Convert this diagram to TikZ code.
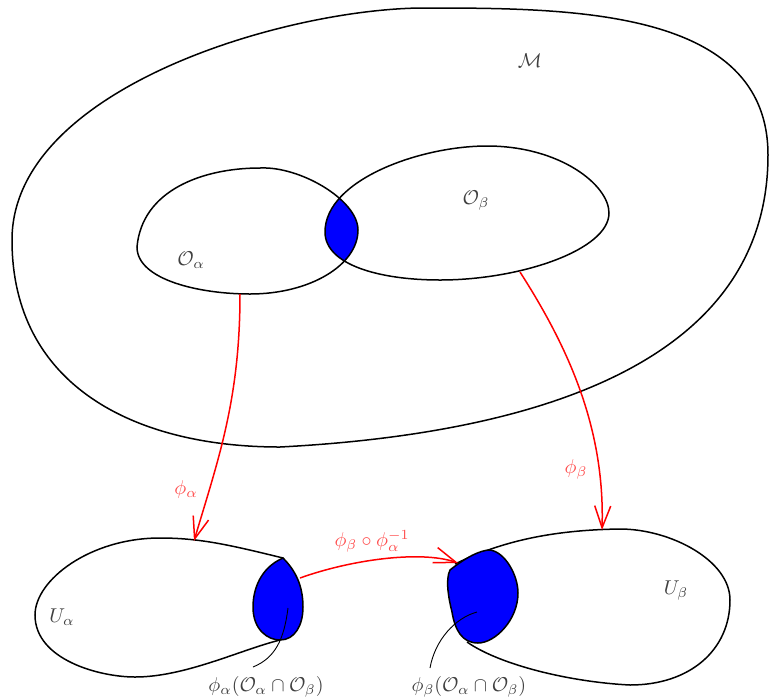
\documentclass[tikz,border=0pt]{standalone}
\usetikzlibrary{arrows.meta}
\begin{document}
\begin{tikzpicture}[x=0.5pt,y=-0.5pt,
  outline/.style={line width=0.75pt,black},
  blobfill/.style={line width=0.75pt,draw=black,fill=blue},
  maparrow/.style={line width=0.75pt,red,-{Straight Barb[length=11pt,width=8pt,line width=0.75pt]}},
  leader/.style={line width=0.45pt,black},
  lbl/.style={text=black!75,inner sep=0pt},
  redlbl/.style={text=red!70,inner sep=0pt}]
\useasboundingbox (0,0) rectangle (772,698);
% manifold M
\draw[outline] (420,8) .. controls (280,10) and (12,90) .. (12,240) to[out=-90,in=180,looseness=1.1] (280,447) to[out=3,in=-90] (768,155) to[out=90,in=0] (420,8) -- cycle;
% lens
\begin{scope}
\clip (137,247) .. controls (142,190) and (203,168) .. (260,168) .. controls (300,166) and (358,200) .. (358,230) .. controls (358,265) and (310,294) .. (250,294) .. controls (200,294) and (137,280) .. (137,247) -- cycle;
\fill[blue] (325,232) .. controls (325,180) and (420,146) .. (487,146) .. controls (560,146) and (609,185) .. (609,213) .. controls (609,250) and (520,280) .. (440,280) .. controls (380,280) and (325,265) .. (325,232) -- cycle;
\end{scope}
\draw[outline] (137,247) .. controls (142,190) and (203,168) .. (260,168) .. controls (300,166) and (358,200) .. (358,230) .. controls (358,265) and (310,294) .. (250,294) .. controls (200,294) and (137,280) .. (137,247) -- cycle;
\draw[outline] (325,232) .. controls (325,180) and (420,146) .. (487,146) .. controls (560,146) and (609,185) .. (609,213) .. controls (609,250) and (520,280) .. (440,280) .. controls (380,280) and (325,265) .. (325,232) -- cycle;
% U alpha
\draw[outline] (283,558) .. controls (230,545) and (200,538) .. (160,538) .. controls (90,538) and (35,580) .. (35,615) .. controls (35,660) and (100,677) .. (135,677) .. controls (185,677) and (240,650) .. (280,640);
\draw[blobfill] (283,558) .. controls (260,568) and (253,590) .. (253,607) .. controls (253,630) and (268,640) .. (280,640) .. controls (295,640) and (303,625) .. (303,607) .. controls (303,585) and (295,570) .. (283,558) -- cycle;
% U beta
\draw[outline] (455,564) .. controls (500,542) and (550,530) .. (620,529) .. controls (670,529) and (730,560) .. (730,600) .. controls (730,650) and (690,685) .. (630,685) .. controls (570,682) and (500,665) .. (467,642);
\draw[blobfill] (450,570) .. controls (465,558) and (480,550) .. (490,550) .. controls (505,552) and (518,575) .. (518,593) .. controls (518,620) and (495,643) .. (478,643) .. controls (462,643) and (455,630) .. (452,612) .. controls (449,600) and (445,580) .. (450,570) -- cycle;
% labels
\node[lbl] (M) at (530,61) {$\mathcal{M}$};
\node[lbl] (Oa) at (191,260) {$\mathcal{O}_\alpha$};
\node[lbl] (Ob) at (476,201) {$\mathcal{O}_\beta$};
\node[lbl] (Ua) at (62,617) {$U_\alpha$};
\node[lbl] (Ub) at (676,591) {$U_\beta$};
\node[lbl] (La) at (266,687) {$\phi_\alpha(\mathcal{O}_\alpha\cap\mathcal{O}_\beta)$};
\node[lbl] (Lb) at (469,687) {$\phi_\beta(\mathcal{O}_\alpha\cap\mathcal{O}_\beta)$};
\node[redlbl] (pa) at (186,489) {$\phi_\alpha$};
\node[redlbl] (pb) at (576,469) {$\phi_\beta$};
\node[redlbl] (pc) at (372,541) {$\phi_\beta\circ\phi_\alpha^{-1}$};
% arrow endpoints
\coordinate (aS) at (240,294);
\coordinate (aE) at (194,541);
\coordinate (bS) at (520,272);
\coordinate (bE) at (602,530);
\coordinate (cS) at (300,578);
\coordinate (cE) at (458,563);
\coordinate (la1) at (288,608);
\coordinate (la2) at (253,667);
\coordinate (lb1) at (477,612);
\coordinate (lb2) at (430,668);
\draw[maparrow] (aS) .. controls (240,400) and (218,460) .. (aE);
\draw[maparrow] (bS) .. controls (570,350) and (605,430) .. (bE);
\draw[maparrow] (cS) .. controls (350,560) and (420,550) .. (cE);
\draw[leader] (la1) .. controls (284,640) and (275,658) .. (la2);
\draw[leader] (lb1) .. controls (455,618) and (435,640) .. (lb2);
\end{tikzpicture}
\end{document}
